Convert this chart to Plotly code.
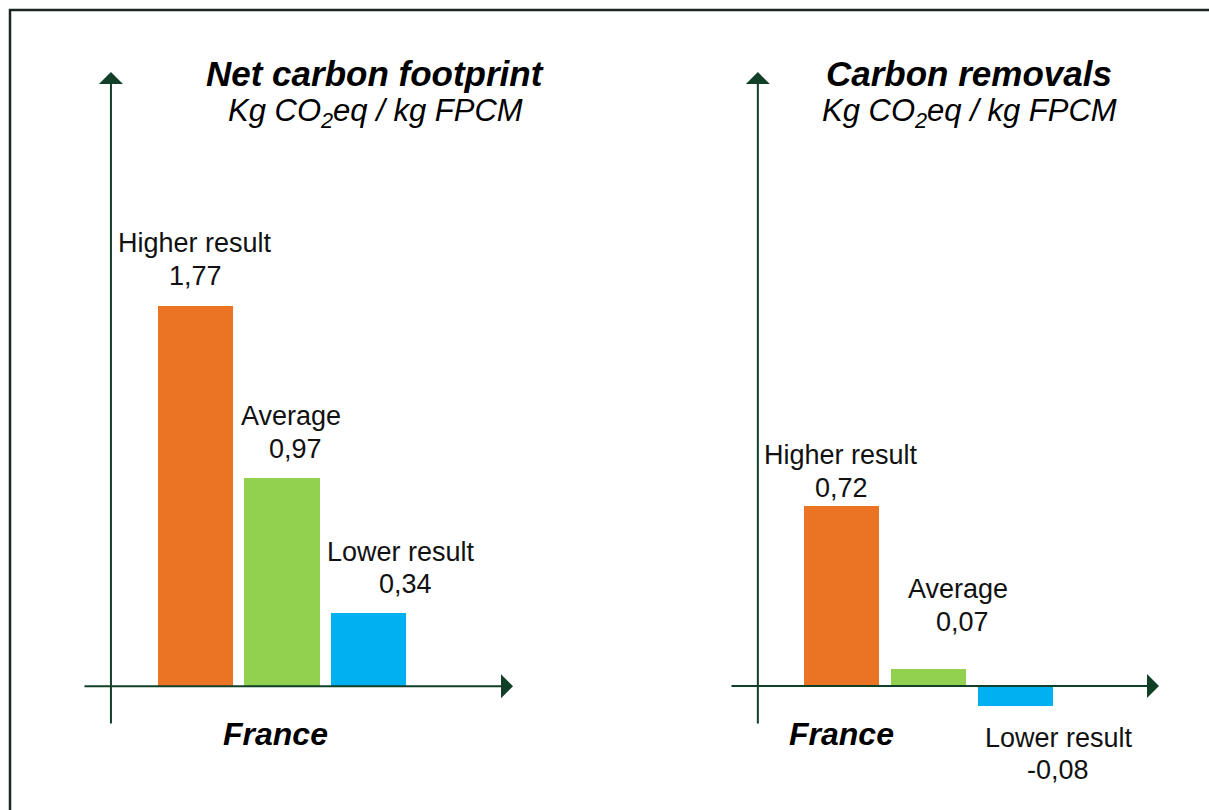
import plotly.graph_objects as go

# Data
categories = ["Higher result", "Average", "Lower result"]
footprint_values = [1.77, 0.97, 0.34]
removal_values = [0.72, 0.07, -0.08]
footprint_labels = ["1,77", "0,97", "0,34"]
removal_labels = ["0,72", "0,07", "-0,08"]
country = "France"
bar_colors = ["#EA7324", "#92D050", "#00B0F0"]

AXIS_COLOR = "#123F28"
FONT = "Liberation Sans, Arial, sans-serif"
W, H = 1209, 810

fig = go.Figure()

positions = [0, 1, 2]

fig.add_trace(go.Bar(x=positions, y=footprint_values, width=0.87,
                     marker=dict(color=bar_colors, line=dict(width=0)),
                     xaxis="x", yaxis="y", showlegend=False, hoverinfo="skip"))
fig.add_trace(go.Bar(x=positions, y=removal_values, width=0.86,
                     marker=dict(color=bar_colors, line=dict(width=0)),
                     xaxis="x2", yaxis="y2", showlegend=False, hoverinfo="skip"))


def px_dom(a, b, total):
    return [a / total, b / total]


def py_dom(top, bottom):
    return [1 - bottom / H, 1 - top / H]


left_xr = [-1.30, 3.67]
left_yr = [-0.18, 2.86]
right_xr = [-1.28, 3.65]
right_yr = [-0.156, 2.456]

hidden = dict(visible=False, showgrid=False, zeroline=False, fixedrange=True)
fig.update_layout(
    xaxis=dict(domain=px_dom(83, 513, W), range=left_xr, **hidden),
    yaxis=dict(domain=py_dom(72, 725), range=left_yr, **hidden),
    xaxis2=dict(domain=px_dom(730, 1159, W), range=right_xr, anchor="y2", **hidden),
    yaxis2=dict(domain=py_dom(72, 725), range=right_yr, anchor="x2", **hidden),
)

annotations = []


def axis_arrows(xref, yref, xr, yr, yaxis_x):
    # horizontal axis through zero
    annotations.append(dict(x=xr[1], y=0, ax=xr[0], ay=0, xref=xref, yref=yref,
                            axref=xref, ayref=yref, showarrow=True, arrowhead=1,
                            arrowsize=2.0, arrowwidth=2, arrowcolor=AXIS_COLOR,
                            text="", standoff=0))
    # vertical axis
    annotations.append(dict(x=yaxis_x, y=yr[1], ax=yaxis_x, ay=yr[0], xref=xref, yref=yref,
                            axref=xref, ayref=yref, showarrow=True, arrowhead=1,
                            arrowsize=2.0, arrowwidth=2, arrowcolor=AXIS_COLOR,
                            text="", standoff=0))


axis_arrows("x", "y", left_xr, left_yr, -0.977)
axis_arrows("x2", "y2", right_xr, right_yr, -0.96)

label_font = dict(family=FONT, size=27, color="#111111")

# label offsets (name, value): (xshift, yshift) in px relative to bar end
left_offsets = [((0, 63), (0, 30)), ((9, 62), (14, 29)), ((32, 61), (37, 29))]
right_offsets = [((0, 51), (0, 18)), ((30, 80), (34, 47)), ((44, -32), (43, -64))]


def bar_labels(xref, yref, values, texts, offsets):
    for i, (v, t, off) in enumerate(zip(values, texts, offsets)):
        (nx, ny), (vx, vy) = off
        annotations.append(dict(x=positions[i], y=v, xref=xref, yref=yref, text=categories[i],
                                showarrow=False, xshift=nx, yshift=ny, font=label_font,
                                xanchor="center", yanchor="middle"))
        annotations.append(dict(x=positions[i], y=v, xref=xref, yref=yref, text=t,
                                showarrow=False, xshift=vx, yshift=vy, font=label_font,
                                xanchor="center", yanchor="middle"))


bar_labels("x", "y", footprint_values, footprint_labels, left_offsets)
bar_labels("x2", "y2", removal_values, removal_labels, right_offsets)

title_font = dict(family=FONT, size=35, color="#000000")
sub_font = dict(family=FONT, size=31, color="#000000")


def titles(cx, title):
    annotations.append(dict(x=cx / W, y=1 - 73 / H, xref="paper", yref="paper",
                            text=f"<b><i>{title}</i></b>", showarrow=False,
                            font=title_font, xanchor="center", yanchor="middle"))
    annotations.append(dict(x=cx / W, y=1 - 113 / H, xref="paper", yref="paper",
                            text="<i>Kg CO<sub>2</sub>eq / kg FPCM</i>", showarrow=False,
                            font=sub_font, xanchor="center", yanchor="middle"))


titles(375, "Net carbon footprint")
titles(969, "Carbon removals")

country_font = dict(family=FONT, size=32, color="#000000")
annotations.append(dict(x=1, y=0, xref="x", yref="y", text=f"<b><i>{country}</i></b>",
                        showarrow=False, xshift=-6, yshift=-48, font=country_font,
                        xanchor="center", yanchor="middle"))
annotations.append(dict(x=0, y=0, xref="x2", yref="y2", text=f"<b><i>{country}</i></b>",
                        showarrow=False, xshift=0, yshift=-48, font=country_font,
                        xanchor="center", yanchor="middle"))

fig.update_layout(
    annotations=annotations,
    width=W, height=H,
    margin=dict(l=0, r=0, t=0, b=0),
    paper_bgcolor="white", plot_bgcolor="white",
    bargap=0,
    shapes=[dict(type="rect", xref="paper", yref="paper",
                 x0=10 / W, x1=1.05, y0=-0.05, y1=1 - 10 / H,
                 line=dict(color="#1A2620", width=2.5), fillcolor="rgba(0,0,0,0)")],
)

fig.write_html("out.html", config={"displayModeBar": False})
